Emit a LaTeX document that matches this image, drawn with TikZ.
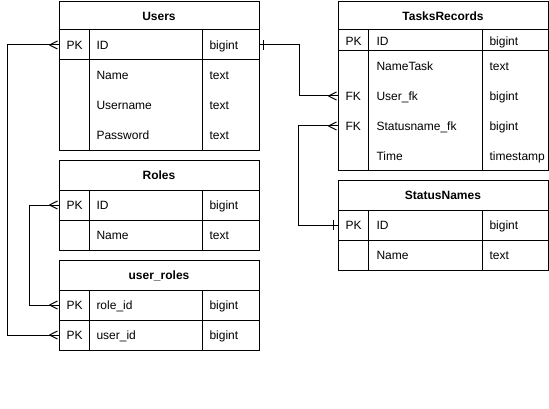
\documentclass[tikz,border=0pt]{standalone}
\usepackage{fontspec}
\setmainfont{Liberation Sans}
\begin{document}
\begin{tikzpicture}[x=1pt,y=-1pt,line width=1pt,line join=miter,
  txt/.style={anchor=west,inner sep=0pt,text height=8.6pt,text depth=0pt,font=\fontsize{12}{14}\selectfont},
  hdr/.style={inner sep=0pt,text height=8.6pt,text depth=0pt,font=\fontsize{12}{14}\selectfont\bfseries},
  rowL/.style={inner sep=0pt,minimum width=200pt,minimum height=30pt},
  rowR/.style={inner sep=0pt,minimum width=210pt,minimum height=30pt},
  tbl/.style={draw,inner sep=0pt,anchor=north west}]
\useasboundingbox[fill=white] (0,0) rectangle (549,409);
\newcommand\crowfoot[1]{\draw ([xshift=-9pt]#1.west) -- ([xshift=-1pt,yshift=4pt]#1.west)
  ([xshift=-9pt]#1.west) -- ([xshift=-1pt,yshift=-4pt]#1.west);}

% ---------- Users ----------
\node[tbl,minimum width=200pt,minimum height=149pt] (users) at (59,1) {};
\draw (59,30) -- (259,30) (59,60) -- (259,60) (89,30) -- (89,150) (202,30) -- (202,150);
\node[hdr] (usersT) at (159,16) {Users};
\node[rowL] (uid) at (159,45) {};
\node[txt] (u1a) at (66,45) {PK};
\node[txt] (u1b) at (96,45) {ID};
\node[txt] (u1c) at (209,45) {bigint};
\node[txt] (u2b) at (96,75) {Name};
\node[txt] (u2c) at (209,75) {text};
\node[txt] (u3b) at (96,105) {Username};
\node[txt] (u3c) at (209,105) {text};
\node[txt] (u4b) at (96,135) {Password};
\node[txt] (u4c) at (209,135) {text};

% ---------- Roles ----------
\node[tbl,minimum width=200pt,minimum height=90pt] (roles) at (59,160) {};
\draw (59,190) -- (259,190) (59,220) -- (259,220) (89,190) -- (89,250) (202,190) -- (202,250);
\node[hdr] (rolesT) at (159,175) {Roles};
\node[rowL] (rid) at (159,205) {};
\node[txt] (r1a) at (66,205) {PK};
\node[txt] (r1b) at (96,205) {ID};
\node[txt] (r1c) at (209,205) {bigint};
\node[txt] (r2b) at (96,235) {Name};
\node[txt] (r2c) at (209,235) {text};

% ---------- user_roles ----------
\node[tbl,minimum width=200pt,minimum height=90pt] (ur) at (59,260) {};
\draw (59,290) -- (259,290) (59,320) -- (259,320) (89,290) -- (89,350) (202,290) -- (202,350);
\node[hdr] (urT) at (159,275) {user\_roles};
\node[rowL] (urrole) at (159,305) {};
\node[rowL] (uruser) at (159,335) {};
\node[txt] (ur1a) at (66,305) {PK};
\node[txt] (ur1b) at (96,305) {role\_id};
\node[txt] (ur1c) at (209,305) {bigint};
\node[txt] (ur2a) at (66,335) {PK};
\node[txt] (ur2b) at (96,335) {user\_id};
\node[txt] (ur2c) at (209,335) {bigint};

% ---------- TasksRecords ----------
\node[tbl,minimum width=210pt,minimum height=169pt] (tasks) at (338,1) {};
\draw (338,30) -- (548,30) (338,51) -- (548,51) (368,30) -- (368,170) (482,30) -- (482,170);
\node[hdr] (tasksT) at (443,16) {TasksRecords};
\node[txt] (t1a) at (345,41) {PK};
\node[txt] (t1b) at (376,41) {ID};
\node[txt] (t1c) at (489,41) {bigint};
\node[txt] (t2b) at (376,66) {NameTask};
\node[txt] (t2c) at (489,66) {text};
\node[rowR] (tuser) at (443,96) {};
\node[txt] (t3a) at (345,96) {FK};
\node[txt] (t3b) at (376,96) {User\_fk};
\node[txt] (t3c) at (489,96) {bigint};
\node[rowR] (tstatus) at (443,126) {};
\node[txt] (t4a) at (345,126) {FK};
\node[txt] (t4b) at (376,126) {Statusname\_fk};
\node[txt] (t4c) at (489,126) {bigint};
\node[txt] (t5b) at (376,156) {Time};
\node[txt] (t5c) at (489,156) {timestamp};

% ---------- StatusNames ----------
\node[tbl,minimum width=210pt,minimum height=90pt] (status) at (338,180) {};
\draw (338,210) -- (548,210) (338,240) -- (548,240) (368,210) -- (368,270) (482,210) -- (482,270);
\node[hdr] (statusT) at (443,195) {StatusNames};
\node[rowR] (sid) at (443,225) {};
\node[txt] (s1a) at (345,225) {PK};
\node[txt] (s1b) at (376,225) {ID};
\node[txt] (s1c) at (489,225) {bigint};
\node[txt] (s2b) at (376,255) {Name};
\node[txt] (s2c) at (489,255) {text};

% ---------- connectors ----------
\draw (uid.west) -- ([xshift=-51pt]uid.west) |- (uruser.west);
\draw (rid.west) -- ([xshift=-29pt]rid.west) |- (urrole.west);
\draw (uid.east) -- ([xshift=40pt]uid.east) |- (tuser.west);
\draw (tstatus.west) -- ([xshift=-39pt]tstatus.west) |- (sid.west);
\crowfoot{uid}
\crowfoot{uruser}
\crowfoot{rid}
\crowfoot{urrole}
\crowfoot{tuser}
\crowfoot{tstatus}
\draw ([xshift=4pt,yshift=-5pt]uid.east) -- ([xshift=4pt,yshift=5pt]uid.east);
\draw ([xshift=-4pt,yshift=-5pt]sid.west) -- ([xshift=-4pt,yshift=5pt]sid.west);
\end{tikzpicture}
\end{document}
